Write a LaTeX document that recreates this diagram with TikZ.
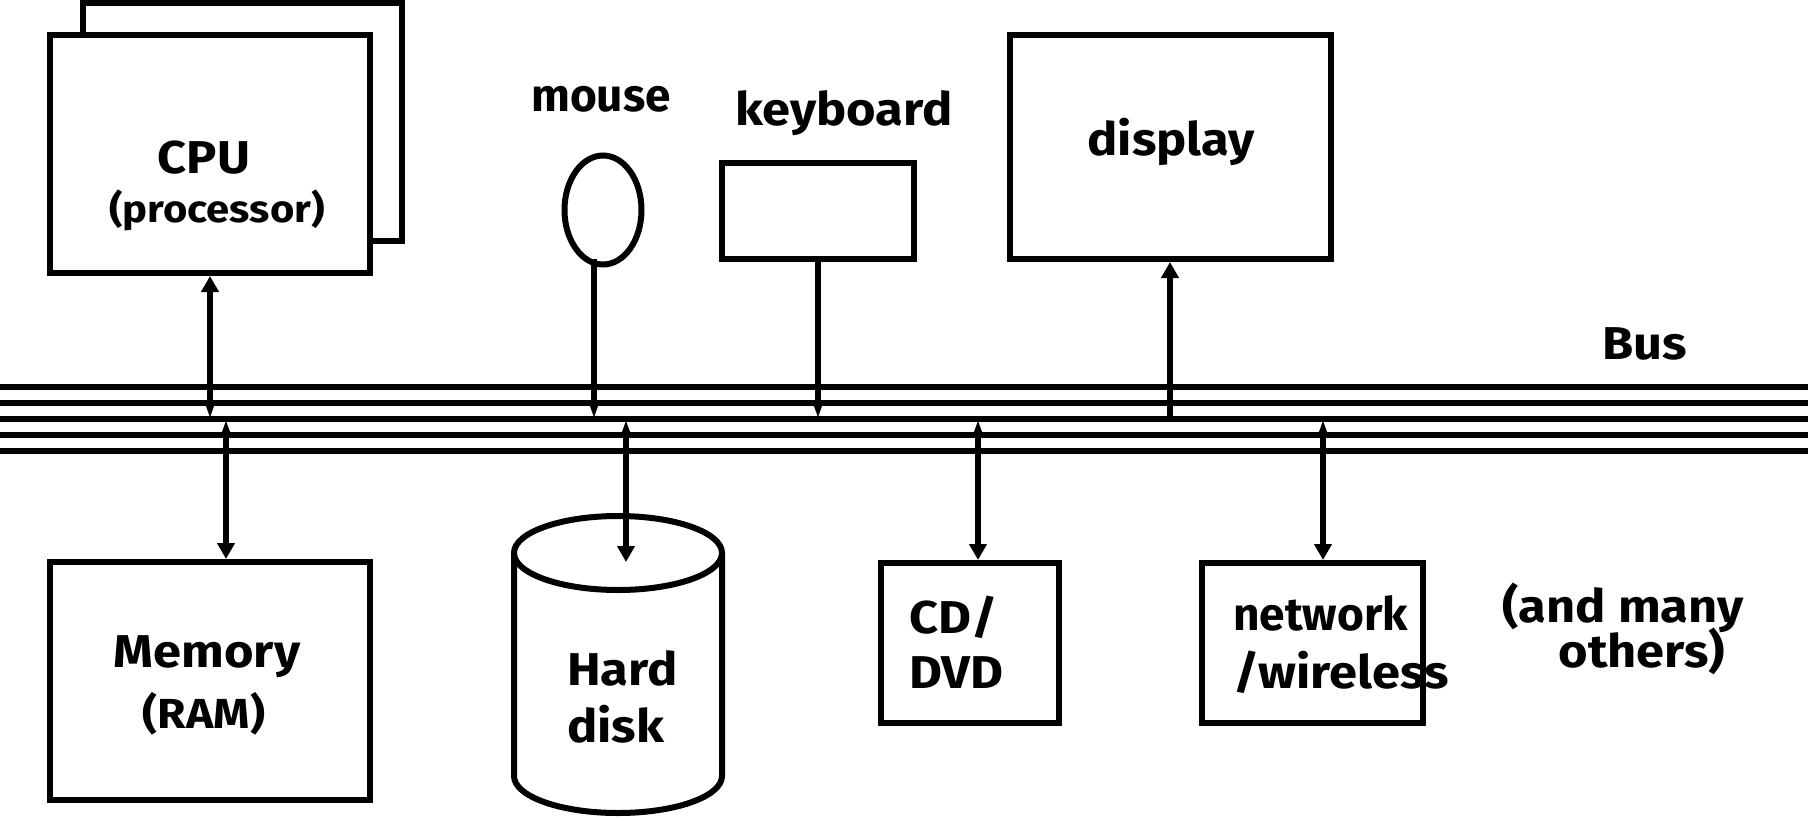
\documentclass[tikz,border=0pt]{standalone}
\usepackage{fontspec}
\setmainfont{Fira Sans}[FakeStretch=1.1]
\newfontfamily\plainfam{Fira Sans}
\usetikzlibrary{shapes.geometric,arrows.meta}
\begin{document}
\begin{tikzpicture}[x=1pt,y=-1pt,
  box/.style={draw,line width=6pt,fill=white,inner sep=0pt},
  busline/.style={line width=5.3pt},
  conn/.style={line width=5.5pt},
  big/.style={font=\fontsize{46}{55}\selectfont\bfseries,inner sep=0pt},
  bigplain/.style={font=\fontsize{46}{55}\selectfont\plainfam\bfseries,inner sep=0pt},
  small/.style={font=\fontsize{38}{46}\selectfont\bfseries,inner sep=0pt},
  tobus/.style={conn,-{Triangle[length=18pt,width=10pt]}},
  tobox/.style={conn,-{Triangle[length=16pt,width=17pt]}},
  both/.style={conn,{Triangle[length=18pt,width=10pt]}-{Triangle[length=16pt,width=17pt]}}
]
\useasboundingbox (0,0) rectangle (1808,820);

% boxes
\node[box,minimum width=319pt,minimum height=238pt] (cpuback) at (242,122) {};
\node[box,minimum width=320pt,minimum height=238pt] (cpu) at (210,154) {};
\node[box,minimum width=320pt,minimum height=238pt] (mem) at (210,681) {};
\node[box,ellipse,minimum width=77pt,minimum height=109pt] (mouse) at (603,210) {};
\node[box,minimum width=192pt,minimum height=96pt] (kbd) at (818,211) {};
\node[box,minimum width=321pt,minimum height=224pt] (disp) at (1170,147) {};
\node[box,minimum width=178pt,minimum height=160pt] (cd) at (970,643) {};
\node[box,minimum width=221pt,minimum height=160pt] (net) at (1312.5,643) {};

% hard disk cylinder
\filldraw[line width=6pt,fill=white] (514,553) -- (514,776)
  arc[start angle=180,end angle=360,x radius=104pt,y radius=37pt] -- (722,553);
\filldraw[line width=6pt,fill=white] (618,553) ellipse [x radius=104pt,y radius=37pt];
\coordinate (disk) at (626,562);

% bus coordinates
\coordinate (bcpu) at (210,419);
\coordinate (bmem) at (226,419);
\coordinate (bmouse) at (594,419);
\coordinate (bdisk) at (626,419);
\coordinate (bkbd) at (818,419);
\coordinate (bcd) at (978,419);
\coordinate (bdisp) at (1170,419);
\coordinate (bnet) at (1323,419);
\coordinate (mousefoot) at (594,259);

% connectors
\draw[both] (bcpu) -- (cpu.south);
\draw[both] (bmem) -- (bmem |- mem.north);
\draw[tobus] (mousefoot) -- (bmouse);
\draw[both] (bdisk) -- (disk);
\draw[tobus] (kbd.south) -- (bkbd);
\draw[both] (bcd) -- (bcd |- cd.north);
\draw[tobox] (bdisp) -- (disp.south);
\draw[both] (bnet) -- (bnet |- net.north);

% bus lines
\foreach \yy in {387,403,419,435,451}
  \draw[busline] (0,\yy) -- (1808,\yy);

% texts
\node[big,anchor=base] (tcpu) at (204,173) {CPU};
\node[small,anchor=base] (tproc) at (217,222) {(processor)};
\node[big,anchor=base] (tmem) at (207,667) {Memory};
\node[small,anchor=base,font=\fontsize{42}{50}\selectfont\bfseries] (tram) at (204,728) {(RAM)};
\node[bigplain,anchor=base] (tmouse) at (601,111) {mouse};
\node[big,anchor=base] (tkbd) at (844,125) {keyboard};
\node[big,anchor=base] (tdisp) at (1171,155) {display};
\node[big,anchor=base] (tbus) at (1645,359) {Bus};
\node[big,anchor=base west] (thard) at (567,685) {Hard};
\node[big,anchor=base west] (tdisk) at (567,742) {disk};
\node[big,anchor=base west] (tcd) at (909,633) {CD/};
\node[big,anchor=base west] (tdvd) at (909,688) {DVD};
\node[bigplain,anchor=base west] (tnet) at (1233,630) {network};
\node[big,anchor=base west] (twl) at (1233,688) {/wireless};
\node[big,anchor=base] (tand) at (1623,622) {(and many};
\node[big,anchor=base] (toth) at (1642,667) {others)};
\end{tikzpicture}
\end{document}
